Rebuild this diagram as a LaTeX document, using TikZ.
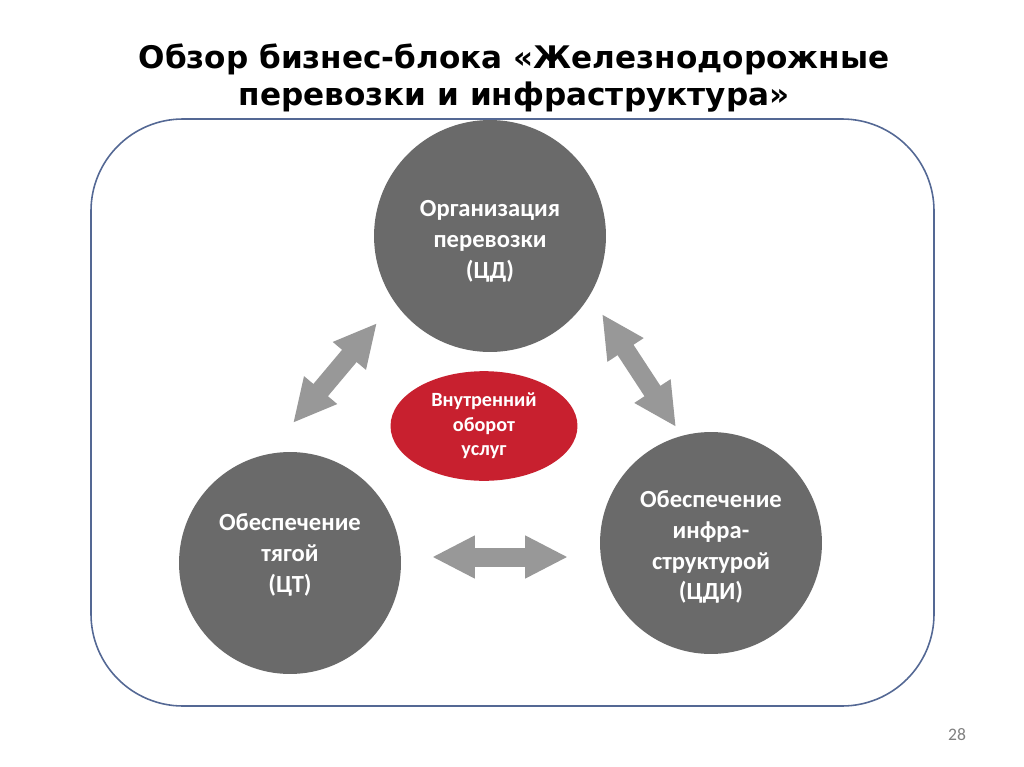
\documentclass[tikz,border=0pt]{standalone}
\usepackage{fontspec}
\setmainfont{Carlito}
\newfontfamily\titlefont{DejaVu Sans}
\usetikzlibrary{arrows.meta,shapes.geometric}
\definecolor{framecol}{RGB}{84,104,148}
\definecolor{circgray}{RGB}{106,106,106}
\definecolor{arrgray}{RGB}{152,152,152}
\definecolor{turnred}{RGB}{200,32,47}
\tikzset{
  unit/.style={circle,fill=circgray,minimum size=#1},
  unittext/.style={text=white,align=center,font=\bfseries\fontsize{14}{17.6}\selectfont},
  biarrow/.style={draw=arrgray,line width=0.38cm,
    >={Triangle[length=0.86cm,width=0.8cm]},<->}
}
\begin{document}
\begin{tikzpicture}[x=0.02cm,y=-0.02cm]
      \useasboundingbox[fill=white] (0,0) rectangle (1024,767);
      % title
      \node[align=center,font=\titlefont\bfseries\fontsize{17.7}{21.5}\selectfont] (title)
          at (514,78) {Обзор бизнес-блока «Железнодорожные\\перевозки и инфраструктура»};
      \draw[framecol,line width=0.9pt,rounded corners=1.84cm] (91,119) rectangle (934,706);
      % the three units
      \node[unit=4.64cm] (cd) at (490,236) {};
      \node[unit=4.44cm] (ct) at (290,563) {};
      \node[unit=4.44cm] (cdi) at (711,543) {};
      \node[unittext] (cdtext) at (490,241) {Организация\\перевозки\\(ЦД)};
      \node[unittext] (cttext) at (290,555) {Обеспечение\\тягой\\(ЦТ)};
      \node[unittext] (cditext) at (711,547) {Обеспечение\\инфра-\\структурой\\(ЦДИ)};
      % internal turnover
      \node[ellipse,fill=turnred,minimum width=3.74cm,minimum height=1.58cm,
            text=white,align=center,font=\bfseries\fontsize{11.5}{13.9}\selectfont]
          (turn) at (484,426) {Внутренний\\оборот\\услуг};
      % arrow ends
      \coordinate (a1) at (293,423);
      \coordinate (a2) at (377,323);
      \coordinate (b1) at (602,314);
      \coordinate (b2) at (676,427);
      \coordinate (c1) at (432,557);
      \coordinate (c2) at (568,557);
      \draw[biarrow] (a1) -- (a2);
      \draw[biarrow] (b1) -- (b2);
      \draw[biarrow] (c1) -- (c2);
      \node[text=gray,font=\fontsize{10}{12}\selectfont] (page) at (957,735) {28};
\end{tikzpicture}
\end{document}
